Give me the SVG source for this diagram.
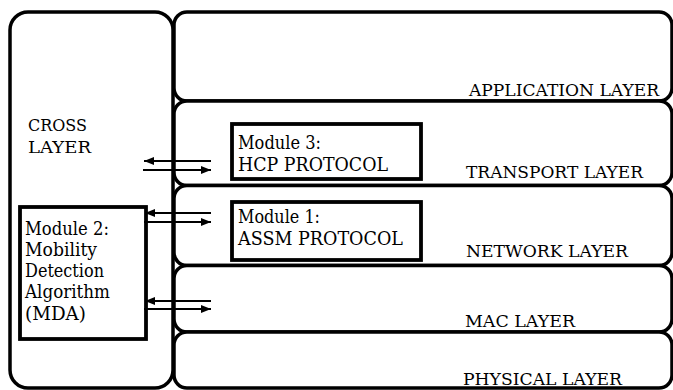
<svg xmlns="http://www.w3.org/2000/svg" width="673" height="390" viewBox="0 0 673 390">
  <style>
    .frame { fill: #fff; stroke: #000; stroke-width: 3.5; }
    .mod { fill: #fff; stroke: #000; stroke-width: 3.8; }
    .lbl { font-size: 17.5px; fill: #000; }
    .mtx { font-size: 19px; fill: #000; }
    .link { stroke: #000; stroke-width: 1.8; fill: none; }
  </style>
  <defs>
    <marker id="head" viewBox="0 0 10 8" refX="10" refY="4" markerWidth="10" markerHeight="8" markerUnits="userSpaceOnUse" orient="auto-start-reverse">
      <path d="M0,0 L10,4 L0,8 Z" fill="#000"/>
    </marker>
  </defs>

  <rect width="673" height="390" fill="#fff"/>

  <g font-family="'DejaVu Serif', 'Liberation Serif', serif" lengthAdjust="spacingAndGlyphs">
    <!-- protocol stack layers -->
    <g id="application-layer">
      <rect class="frame" x="174" y="12" width="498" height="89" rx="13"/>
      <text class="lbl" x="469" y="96" textLength="190" lengthAdjust="spacingAndGlyphs">APPLICATION LAYER</text>
    </g>
    <g id="transport-layer">
      <rect class="frame" x="174" y="101" width="498" height="84.5" rx="13"/>
      <text class="lbl" x="466" y="178" textLength="177" lengthAdjust="spacingAndGlyphs">TRANSPORT LAYER</text>
    </g>
    <g id="network-layer">
      <rect class="frame" x="174" y="185.5" width="498" height="80" rx="13"/>
      <text class="lbl" x="466" y="257" textLength="162" lengthAdjust="spacingAndGlyphs">NETWORK LAYER</text>
    </g>
    <g id="mac-layer">
      <rect class="frame" x="174" y="265.5" width="498" height="66.5" rx="13"/>
      <text class="lbl" x="465" y="327" textLength="110" lengthAdjust="spacingAndGlyphs">MAC LAYER</text>
    </g>
    <g id="physical-layer">
      <rect class="frame" x="174" y="332" width="498" height="56" rx="13"/>
      <text class="lbl" x="463" y="385" textLength="159" lengthAdjust="spacingAndGlyphs">PHYSICAL LAYER</text>
    </g>

    <!-- cross layer column -->
    <g id="cross-layer">
      <rect class="frame" x="10" y="12" width="163" height="376" rx="18"/>
      <text class="lbl" x="28" y="131" textLength="59" lengthAdjust="spacingAndGlyphs">CROSS</text>
      <text class="lbl" x="28" y="153" textLength="63" lengthAdjust="spacingAndGlyphs">LAYER</text>
    </g>

    <!-- modules -->
    <g id="module-3">
      <rect class="mod" x="232" y="124" width="189" height="55"/>
      <text class="mtx" x="238" y="149" textLength="83" lengthAdjust="spacingAndGlyphs">Module 3:</text>
      <text class="mtx" x="238" y="171" textLength="150" lengthAdjust="spacingAndGlyphs">HCP PROTOCOL</text>
    </g>
    <g id="module-1">
      <rect class="mod" x="232" y="202" width="189" height="58"/>
      <text class="mtx" x="238" y="223" textLength="82" lengthAdjust="spacingAndGlyphs">Module 1:</text>
      <text class="mtx" x="238" y="245" textLength="165" lengthAdjust="spacingAndGlyphs">ASSM PROTOCOL</text>
    </g>
    <g id="module-2">
      <rect class="mod" x="20" y="207" width="126" height="132"/>
      <text class="mtx" x="25" y="235" textLength="84" lengthAdjust="spacingAndGlyphs">Module 2:</text>
      <text class="mtx" x="25" y="256" textLength="72" lengthAdjust="spacingAndGlyphs">Mobility</text>
      <text class="mtx" x="25" y="277" textLength="79" lengthAdjust="spacingAndGlyphs">Detection</text>
      <text class="mtx" x="25" y="298" textLength="85" lengthAdjust="spacingAndGlyphs">Algorithm</text>
      <text class="mtx" x="25" y="320" textLength="61" lengthAdjust="spacingAndGlyphs">(MDA)</text>
    </g>
  </g>

  <!-- exchange arrows between cross layer and stack -->
  <g id="connectors">
    <line class="link" x1="211" y1="161" x2="144" y2="161" marker-end="url(#head)"/>
    <line class="link" x1="143" y1="170" x2="211" y2="170" marker-end="url(#head)"/>
    <line class="link" x1="211" y1="213" x2="145" y2="213" marker-end="url(#head)"/>
    <line class="link" x1="144" y1="222" x2="211" y2="222" marker-end="url(#head)"/>
    <line class="link" x1="211" y1="301" x2="145" y2="301" marker-end="url(#head)"/>
    <line class="link" x1="144" y1="309" x2="211" y2="309" marker-end="url(#head)"/>
  </g>
</svg>
